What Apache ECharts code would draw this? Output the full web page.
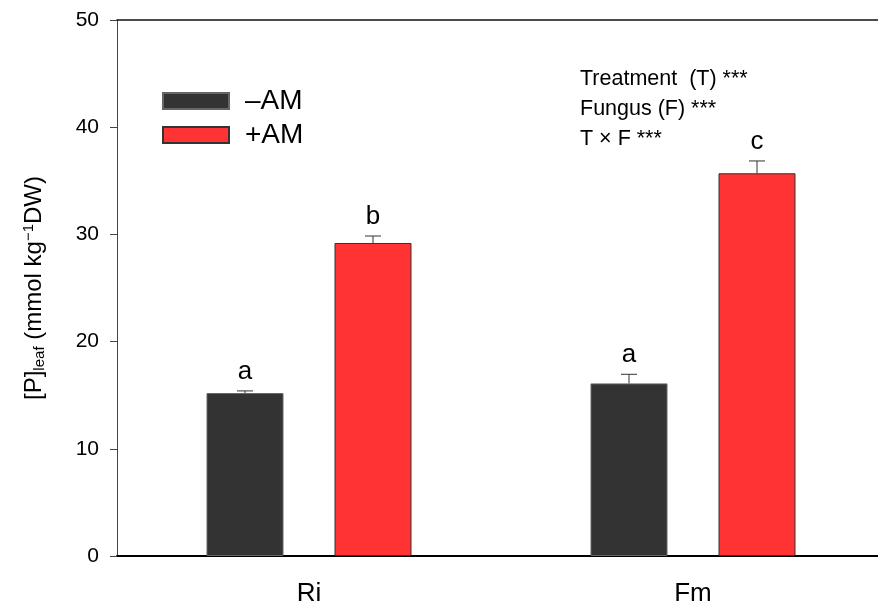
<!DOCTYPE html>
<html>
<head>
<meta charset="utf-8">
<script src="https://cdn.jsdelivr.net/npm/echarts@6/dist/echarts.min.js"></script>
<style>html,body{margin:0;padding:0;background:#fff;}#c{width:878px;height:606px;}</style>
</head>
<body>
<div id="c"></div>
<script>
var categories = ['Ri', 'Fm'];
var seriesNames = ['\u2013AM', '+AM'];
var minusAM = [15.2, 16.1];
var minusAMErr = [0.2, 0.85];
var plusAM = [29.2, 35.7];
var plusAMErr = [0.65, 1.15];
var minusLetters = ['a', 'a'];
var plusLetters = ['b', 'c'];
var yTicks = [0, 10, 20, 30, 40, 50];
var statsLines = ['Treatment  (T) ***', 'Fungus (F) ***', 'T \u00d7 F ***'];

var FONT = 'Liberation Sans, Arial, sans-serif';
var BAR_W = 77, BAR_GAP = 51;
var OFF = (BAR_W + BAR_GAP) / 2;

function errData(vals, errs) {
  return vals.map(function (v, i) { return [i, v, errs[i]]; });
}

function makeRender(side, letters) {
  return function (params, api) {
    var ci = api.value(0), v = api.value(1), e = api.value(2);
    var letter = letters[params.dataIndex];
    var base = api.coord([ci, v]);
    var top = api.coord([ci, v + e]);
    var x = base[0] + side * OFF;
    var stroke = {stroke: '#333', lineWidth: 1};
    return {
      type: 'group',
      children: [
        {type: 'line', shape: {x1: x, y1: base[1], x2: x, y2: top[1]}, style: stroke},
        {type: 'line', shape: {x1: x - 8, y1: top[1], x2: x + 8, y2: top[1]}, style: stroke},
        {type: 'text', style: {text: letter, x: x, y: top[1] - 6, textAlign: 'center', textVerticalAlign: 'bottom',
          fontSize: 26, fontFamily: FONT, fill: '#000'}}
      ]
    };
  };
}

var chart = echarts.init(document.getElementById('c'), null, {renderer: 'canvas'});
chart.setOption({
  animation: false,
  backgroundColor: '#fff',
  grid: {left: 117, width: 768, top: 20, height: 536, outerBoundsMode: 'none'},
  legend: {
    orient: 'vertical', left: 162, top: 87, padding: 0, itemWidth: 66, itemHeight: 16, itemGap: 6,
    icon: 'rect', data: seriesNames,
    textStyle: {fontSize: 28, fontFamily: FONT, color: '#000', padding: [0, 0, 0, 11]}
  },
  xAxis: [{
    type: 'category', data: categories, position: 'bottom',
    axisLine: {lineStyle: {color: '#000', width: 2}},
    axisTick: {show: false},
    axisLabel: {fontSize: 26, fontFamily: FONT, color: '#000', margin: 25}
  }, {
    type: 'category', data: categories, position: 'top',
    axisLine: {lineStyle: {color: '#111', width: 1.5}},
    axisTick: {show: false}, axisLabel: {show: false}
  }],
  yAxis: {
    type: 'value', min: yTicks[0], max: yTicks[yTicks.length - 1], interval: 10,
    splitLine: {show: false},
    axisLine: {show: true, lineStyle: {color: '#444', width: 1}},
    axisTick: {show: true, length: 7, lineStyle: {color: '#444'}},
    axisLabel: {fontSize: 21, fontFamily: FONT, color: '#000', margin: 18},
    name: '{a|[P]}{sub|leaf}{a| (mmol kg}{sup|\u22121}{a|DW)}',
    nameLocation: 'middle', nameGap: 70, nameRotate: 90,
    nameTextStyle: {
      rich: {
        a: {fontSize: 24, fontFamily: FONT, color: '#000'},
        sub: {fontSize: 15, fontFamily: FONT, color: '#000', verticalAlign: 'bottom', padding: [9, 0, 0, 0]},
        sup: {fontSize: 15, fontFamily: FONT, color: '#000', verticalAlign: 'top', padding: [0, 0, 11, 0]}
      }
    }
  },
  series: [{
    name: seriesNames[0], type: 'bar', data: minusAM, barWidth: BAR_W, barGap: (BAR_GAP / BAR_W * 100) + '%',
    itemStyle: {color: '#333333', borderColor: '#666', borderWidth: 1}
  }, {
    name: seriesNames[1], type: 'bar', data: plusAM, barWidth: BAR_W,
    itemStyle: {color: '#ff3333', borderColor: '#333', borderWidth: 1}
  }, {
    type: 'custom', renderItem: makeRender(-1, minusLetters), data: errData(minusAM, minusAMErr), z: 5,
    silent: true
  }, {
    type: 'custom', renderItem: makeRender(1, plusLetters), data: errData(plusAM, plusAMErr), z: 5,
    silent: true
  }],
  graphic: statsLines.map(function (t, i) {
    return {type: 'text', left: 580, top: 68 + i * 30,
      style: {text: t, fontSize: 21.5, fontFamily: FONT, fill: '#000'}};
  })
});
</script>
</body>
</html>
